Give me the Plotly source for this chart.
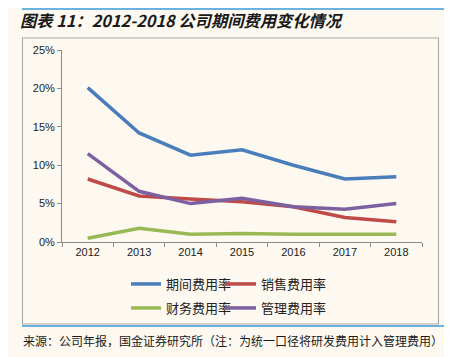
import plotly.graph_objects as go

years = ["2012", "2013", "2014", "2015", "2016", "2017", "2018"]
period_rate = [20.1, 14.2, 11.3, 12.0, 10.0, 8.2, 8.5]
sales_rate = [8.2, 6.0, 5.6, 5.25, 4.6, 3.2, 2.65]
finance_rate = [0.5, 1.8, 1.0, 1.1, 1.0, 1.0, 1.0]
admin_rate = [11.5, 6.6, 5.0, 5.7, 4.6, 4.25, 5.0]

series = [
    ("期间费用率", period_rate, "#4A7EBB", "legend"),
    ("销售费用率", sales_rate, "#BE4B48", "legend2"),
    ("财务费用率", finance_rate, "#98B954", "legend3"),
    ("管理费用率", admin_rate, "#7D60A0", "legend4"),
]

CJK = "Noto Sans CJK SC"
BG = "#FDF9F0"

fig = go.Figure()
for name, vals, color, lg in series:
    fig.add_trace(go.Scatter(
        x=years, y=[v / 100 for v in vals], mode="lines", name=name,
        line=dict(color=color, width=3.5), legend=lg, showlegend=True,
    ))

# page offset from the browser's default body margin
OFF = 8
W, H = 452 - OFF, 357 - OFF
L, R, T = 62 - OFF, 30, 50 - OFF
PH = 192
B = H - T - PH
pw, ph = W - L - R, PH

def px(x):  # page pixel x -> paper
    return (x - OFF - L) / pw

def py(y):  # page pixel y -> paper
    return (T + PH - (y - OFF)) / ph

def cx(x):
    return (x - OFF) / W

def cy(y):
    return 1 - (y - OFF) / H

box_line = dict(color="#A6A6A6", width=1)
blue_line = dict(color="#3A9AD9", width=1.5)
shapes = [
    dict(type="line", xref="paper", yref="paper", x0=px(22), x1=px(439), y0=py(38), y1=py(38), line=box_line),
    dict(type="line", xref="paper", yref="paper", x0=px(22), x1=px(439), y0=py(324), y1=py(324), line=box_line),
    dict(type="line", xref="paper", yref="paper", x0=px(22.5), x1=px(22.5), y0=py(38), y1=py(324), line=box_line),
    dict(type="line", xref="paper", yref="paper", x0=px(438.5), x1=px(438.5), y0=py(38), y1=py(324), line=box_line),
    dict(type="line", xref="paper", yref="paper", x0=px(22), x1=px(452), y0=py(9), y1=py(9), line=blue_line),
    dict(type="line", xref="paper", yref="paper", x0=px(22), x1=px(452), y0=py(326), y1=py(326), line=blue_line),
]

annotations = [
    dict(text="<b><i>图表 11：2012-2018 公司期间费用变化情况</i></b>", xref="paper", yref="paper",
         x=px(18), y=py(20), xanchor="left", yanchor="middle", showarrow=False,
         font=dict(family=CJK, size=16.3, color="#1a1a1a")),
    dict(text="来源：公司年报，国金证券研究所（注：为统一口径将研发费用计入管理费用）", xref="paper", yref="paper",
         x=px(21), y=py(340), xanchor="left", yanchor="middle", showarrow=False,
         font=dict(family=CJK, size=12, color="#1a1a1a")),
]

legend_common = dict(orientation="h", xanchor="left", yanchor="middle", bgcolor="rgba(0,0,0,0)",
                     xref="container", yref="container",
                     font=dict(family=CJK, size=13, color="#222"), itemwidth=30)

fig.update_layout(
    width=W, height=H,
    showlegend=True,
    margin=dict(l=L, r=R, t=T, b=B, autoexpand=False),
    paper_bgcolor=BG, plot_bgcolor=BG,
    shapes=shapes, annotations=annotations,
    legend=dict(x=cx(126), y=cy(284), **legend_common),
    legend2=dict(x=cx(221), y=cy(284), **legend_common),
    legend3=dict(x=cx(126), y=cy(308), **legend_common),
    legend4=dict(x=cx(221), y=cy(308), **legend_common),
    xaxis=dict(
        type="category", range=[-0.5, 6.5], showgrid=False, showline=True,
        linecolor="#8C8C8C", linewidth=1, ticks="outside", tickson="boundaries",
        ticklen=4, tickcolor="#8C8C8C", tickfont=dict(family="Liberation Sans, Arial", size=11, color="#222"),
        zeroline=False,
    ),
    yaxis=dict(
        range=[0, 0.25], dtick=0.05, tickformat=".0%", showgrid=False, showline=True,
        linecolor="#8C8C8C", linewidth=1, ticks="outside", ticklen=4, tickcolor="#8C8C8C",
        tickfont=dict(family="Liberation Sans, Arial", size=11, color="#222"), zeroline=False,
    ),
)

fig.write_html("out.html", config={"displayModeBar": False})
